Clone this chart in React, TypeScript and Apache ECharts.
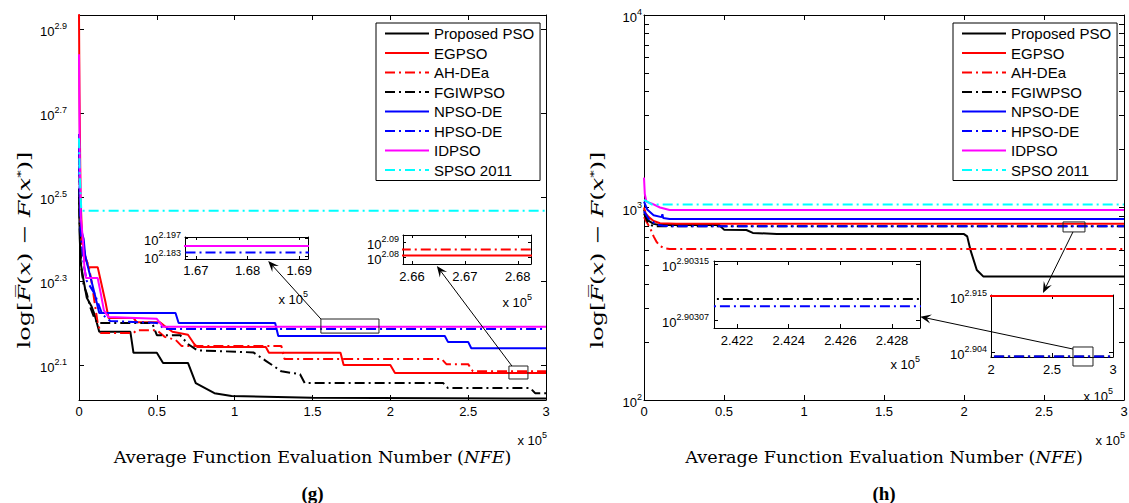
import React, { useEffect, useRef } from "react";
import * as echarts from "echarts";

// ---------- series identity ----------
const NAMES = ["Proposed PSO", "EGPSO", "AH-DEa", "FGIWPSO", "NPSO-DE", "HPSO-DE", "IDPSO", "SPSO 2011"];
const COLORS = ["#000000", "#ff0000", "#ff0000", "#000000", "#0000ff", "#0000ff", "#ff00ff", "#00ffff"];
const DASHED = [false, false, true, true, false, true, false, true];

// ---------- panel (g): [NFE (x1e5), log10 error] ----------
const gProposed = [[0, 2.5], [0.005, 2.4], [0.012, 2.34], [0.03, 2.3], [0.05, 2.26], [0.08, 2.24], [0.1, 2.22], [0.13, 2.179], [0.33, 2.179], [0.35, 2.129], [0.5, 2.129], [0.54, 2.105], [0.7, 2.105], [0.75, 2.057], [0.87, 2.033], [0.98, 2.026], [1.5, 2.022], [3, 2.02]];
const gEGPSO = [[0, 2.935], [0.003, 2.75], [0.01, 2.5], [0.02, 2.4], [0.04, 2.36], [0.06, 2.333], [0.12, 2.333], [0.14, 2.3], [0.17, 2.25], [0.19, 2.212], [0.35, 2.212], [0.37, 2.202], [0.52, 2.202], [0.56, 2.19], [0.6, 2.179], [0.7, 2.172], [0.74, 2.15], [0.76, 2.143], [1.2, 2.143], [1.22, 2.129], [1.68, 2.129], [1.7, 2.1], [2.0, 2.1], [2.03, 2.081], [3, 2.081]];
const gAHDEa = [[0, 2.6], [0.01, 2.42], [0.03, 2.36], [0.06, 2.34], [0.08, 2.3], [0.1, 2.25], [0.12, 2.2], [0.14, 2.176], [0.35, 2.176], [0.37, 2.183], [0.5, 2.183], [0.55, 2.167], [0.62, 2.16], [0.66, 2.145], [1.3, 2.145], [1.32, 2.114], [2.33, 2.114], [2.36, 2.102], [2.5, 2.102], [2.53, 2.085], [3, 2.085]];
const gFGIWPSO = [[0, 2.52], [0.005, 2.42], [0.015, 2.33], [0.03, 2.29], [0.05, 2.27], [0.07, 2.24], [0.1, 2.21], [0.12, 2.2], [0.47, 2.2], [0.5, 2.171], [0.65, 2.171], [0.7, 2.15], [0.76, 2.135], [1.12, 2.13], [1.2, 2.11], [1.3, 2.085], [1.42, 2.078], [1.45, 2.057], [2.34, 2.057], [2.37, 2.045], [2.9, 2.045], [2.93, 2.033], [3, 2.033]];
const gNPSODE = [[0, 2.65], [0.005, 2.5], [0.015, 2.42], [0.03, 2.4], [0.04, 2.36], [0.06, 2.33], [0.08, 2.3], [0.1, 2.27], [0.13, 2.224], [0.62, 2.224], [0.64, 2.2], [1.26, 2.2], [1.28, 2.169], [2.35, 2.169], [2.37, 2.155], [2.5, 2.155], [2.52, 2.14], [3, 2.14]];
const gHPSODE = [[0, 2.62], [0.01, 2.42], [0.03, 2.34], [0.05, 2.3], [0.1, 2.27], [0.15, 2.22], [0.2, 2.205], [0.5, 2.2], [0.55, 2.186], [3, 2.186]];
const gIDPSO = [[0, 2.84], [0.004, 2.62], [0.012, 2.45], [0.025, 2.4], [0.035, 2.33], [0.045, 2.307], [0.12, 2.307], [0.14, 2.27], [0.16, 2.23], [0.19, 2.214], [0.5, 2.21], [0.54, 2.191], [3, 2.191]];
const gSPSO = [[0, 2.64], [0.005, 2.55], [0.015, 2.467], [3, 2.467]];

// ---------- panel (h) ----------
const hProposed = [[0, 2.99], [0.01, 2.96], [0.03, 2.93], [0.06, 2.915], [0.1, 2.909], [0.47, 2.909], [0.5, 2.885], [0.64, 2.883], [0.68, 2.868], [0.83, 2.862], [2.0, 2.862], [2.02, 2.85], [2.04, 2.78], [2.08, 2.675], [2.12, 2.642], [3, 2.642]];
const hEGPSO = [[0, 3.0], [0.01, 2.97], [0.03, 2.95], [0.06, 2.93], [0.1, 2.918], [0.2, 2.915], [3, 2.915]];
const hAHDEa = [[0, 2.95], [0.02, 2.92], [0.04, 2.89], [0.06, 2.85], [0.08, 2.82], [0.1, 2.8], [0.13, 2.788], [0.16, 2.784], [3, 2.784]];
const hFGIWPSO = [[0, 2.97], [0.02, 2.93], [0.04, 2.91], [0.06, 2.9031], [3, 2.9031]];
const hNPSODE = [[0, 3.03], [0.02, 2.99], [0.06, 2.96], [0.11, 2.95], [0.115, 2.965], [0.12, 2.945], [0.16, 2.94], [3, 2.94]];
const hHPSODE = [[0, 2.98], [0.03, 2.94], [0.08, 2.91], [0.12, 2.905], [0.16, 2.90309], [3, 2.90309]];
const hIDPSO = [[0, 3.155], [0.005, 3.07], [0.015, 3.03], [0.05, 3.02], [0.1, 3.0], [0.16, 2.987], [3, 2.987]];
const hSPSO = [[0, 3.04], [0.02, 3.03], [0.05, 3.015], [3, 3.015]];

const G_DATA = [gProposed, gEGPSO, gAHDEa, gFGIWPSO, gNPSODE, gHPSODE, gIDPSO, gSPSO];
const H_DATA = [hProposed, hEGPSO, hAHDEa, hFGIWPSO, hNPSODE, hHPSODE, hIDPSO, hSPSO];

// ---------- tick labels ----------
const X_TICKS = [0, 0.5, 1, 1.5, 2, 2.5, 3];
const G_Y_TICKS = [2.1, 2.3, 2.5, 2.7, 2.9];
const H_Y_TICKS = [2, 3, 4];
const H_Y_MINOR = [2, 3].flatMap((d) => [2, 3, 4, 5, 6, 7, 8, 9].map((k) => d + Math.log10(k)));
const L1_X = [1.67, 1.68, 1.69];
const L1_Y = [2.183, 2.197];
const L2_X = [2.66, 2.67, 2.68];
const L2_Y = [2.08, 2.09];
const RA_X = [2.422, 2.424, 2.426, 2.428];
const RA_Y = [2.90307, 2.90315];
const RB_X = [2, 2.5, 3];
const RB_Y = [2.904, 2.915];

// zoom windows marked on the plots, and arrows pointing to the insets
const ZOOM_BOXES = [
  { panel: 0, x: [1.554, 1.927], y: [2.176, 2.2095] },
  { panel: 0, x: [2.762, 2.884], y: [2.0667, 2.0976] },
  { panel: 1, x: [2.619, 2.756], y: [2.873, 2.925] },
  { panel: 5, x: [2.672, 2.836], y: [2.90123, 2.90497] },
];
const ARROWS = [
  { from: { panel: 0, p: [1.554, 2.2095] }, to: { panel: 2, p: [1.684, 2.1795] } },
  { from: { panel: 0, p: [2.781, 2.0976] }, to: { panel: 3, p: [2.6647, 2.074] } },
  { from: { panel: 1, p: [2.681, 2.873] }, to: { panel: 5, p: [2.426, 2.9156] } },
  { from: { panel: 5, p: [2.672, 2.90457] }, to: { panel: 4, p: [2.42909, 2.903075] } },
];

// ---------- layout ----------
const PANELS = [
  { left: 79, top: 15, width: 467, height: 385, x: [0, 3], y: [2.01667, 2.93333], xt: X_TICKS, yl: G_Y_TICKS, ytk: G_Y_TICKS, ym: 12, xm: 5, tl: 5, src: G_DATA, idx: [0, 1, 2, 3, 4, 5, 6, 7], inset: false },
  { left: 644, top: 15, width: 480, height: 385, x: [0, 3], y: [2, 4], xt: X_TICKS, yl: H_Y_TICKS, ytk: [...H_Y_TICKS, ...H_Y_MINOR], ym: 2, xm: 5, tl: 5, src: H_DATA, idx: [0, 1, 2, 3, 4, 5, 6, 7], inset: false },
  { left: 185, top: 237, width: 123, height: 22, x: [1.6679, 1.6917], y: [2.181, 2.198], xt: L1_X, yl: L1_Y, ytk: L1_Y, ym: 4, xm: 5, tl: 3, src: G_DATA, idx: [5, 6], inset: true },
  { left: 403, top: 235, width: 128, height: 29, x: [2.6583, 2.6825], y: [2.0753, 2.0947], xt: L2_X, yl: L2_Y, ytk: L2_Y, ym: 4, xm: 6, tl: 3, src: G_DATA, idx: [1, 2], inset: true },
  { left: 714, top: 261, width: 206, height: 67, x: [2.42111, 2.42908], y: [2.903059, 2.903154], xt: RA_X, yl: RA_Y, ytk: RA_Y, ym: 5, xm: 6, tl: 4, src: H_DATA, idx: [3, 5], inset: true },
  { left: 991, top: 295, width: 122, height: 62, x: [2, 3], y: [2.903, 2.9152], xt: RB_X, yl: RB_Y, ytk: RB_Y, ym: 4, xm: 6, tl: 4, src: H_DATA, idx: [1, 3, 5], inset: true },
];

const FONT = "'Liberation Sans', Arial, Helvetica, sans-serif";
const SERIF = "'DejaVu Serif', 'Liberation Serif', serif";
const TIMES = "'Liberation Serif', 'Times New Roman', serif";
const DASHDOT = [10, 4, 2, 4];

const fmt = (v: number) => String(parseFloat(Number(v).toFixed(6)));
const supRich = {
  b: { fontSize: 13, fontFamily: FONT, color: "#000", lineHeight: 20 },
  s: { fontSize: 9, fontFamily: FONT, color: "#000", lineHeight: 8, verticalAlign: "top" },
};

export default function App() {
  const ref = useRef<HTMLDivElement>(null);
  useEffect(() => {
    const chart = echarts.init(ref.current!, undefined, { renderer: "svg" });
    const grid: any[] = [];
    const xAxis: any[] = [];
    const yAxis: any[] = [];
    const series: any[] = [];

    PANELS.forEach((p, i) => {
      grid.push({ left: p.left, top: p.top, width: p.width, height: p.height, show: false, containLabel: false, outerBoundsMode: "none" });
      const line = { show: true, onZero: false, lineStyle: { color: "#000", width: 1 } };
      const tick = (vals: number[]) => ({ show: true, inside: true, length: p.tl, customValues: vals, lineStyle: { color: "#000", width: 1 } });
      const common = { type: "value", gridIndex: i, axisLine: line, splitLine: { show: false }, silent: true };
      xAxis.push({
        ...common, position: "bottom", min: p.x[0], max: p.x[1], axisTick: tick(p.xt),
        axisLabel: { customValues: p.xt, formatter: fmt, margin: p.xm, fontSize: 13, fontFamily: FONT, color: "#000", showMinLabel: true, showMaxLabel: true },
      });
      xAxis.push({ ...common, position: "top", min: p.x[0], max: p.x[1], axisTick: tick(p.xt), axisLabel: { show: false } });
      yAxis.push({
        ...common, position: "left", min: p.y[0], max: p.y[1], axisTick: tick(p.ytk),
        axisLabel: p.inset
          ? { show: false }
          : { customValues: p.yl, formatter: (v: number) => `{b|10}{s|${fmt(v)}}`, rich: supRich, margin: p.ym, padding: [5, 0, 0, 0], showMinLabel: true, showMaxLabel: true },
      });
      yAxis.push({ ...common, position: "right", min: p.y[0], max: p.y[1], axisTick: tick(p.ytk), axisLabel: { show: false } });

      p.idx.forEach((k) => {
        series.push({
          type: "line", name: NAMES[k], data: p.src[k], xAxisIndex: 2 * i, yAxisIndex: 2 * i,
          symbol: "none", showSymbol: false, clip: true, silent: true, emphasis: { disabled: true },
          lineStyle: { color: COLORS[k], width: 2, type: DASHED[k] ? DASHDOT : "solid" },
          itemStyle: { color: COLORS[k] },
        });
      });
    });

    const legendBase = {
      orient: "vertical", data: NAMES, itemWidth: 44, itemHeight: 14, itemGap: 4.5,
      padding: [3, 6, 3, 8], borderColor: "#000", borderWidth: 1, backgroundColor: "#fff",
      selectedMode: false, textStyle: { fontSize: 15, fontFamily: FONT, color: "#000" },
      itemStyle: { opacity: 0 }, lineStyle: { width: 2 },
    };

    chart.setOption({
      animation: false,
      backgroundColor: "#fff",
      grid, xAxis, yAxis, series,
      legend: [
        { ...legendBase, left: 376, top: 23 },
        { ...legendBase, left: 953, top: 23 },
      ],
    });

    const px = (panel: number, pt: number[]) =>
      chart.convertToPixel({ xAxisIndex: 2 * panel, yAxisIndex: 2 * panel } as any, pt) as number[];

    const graphic: any[] = [];

    // inset y tick labels (10^v), placed at the inset's own scale
    PANELS.forEach((p, i) => {
      if (!p.inset) return;
      p.yl.forEach((v) => {
        const pt = px(i, [p.x[0], v]);
        graphic.push({
          type: "text", x: pt[0] - p.ym, y: pt[1] + 2.5, z: 100,
          style: { text: `{b|10}{s|${fmt(v)}}`, rich: supRich, align: "right", verticalAlign: "middle" },
        });
      });
    });

    ZOOM_BOXES.forEach((b) => {
      const a = px(b.panel, [b.x[0], b.y[1]]);
      const c = px(b.panel, [b.x[1], b.y[0]]);
      graphic.push({ type: "rect", z: 100, shape: { x: a[0], y: a[1], width: c[0] - a[0], height: c[1] - a[1] }, style: { fill: "none", stroke: "#222", lineWidth: 1 } });
    });
    ARROWS.forEach((ar) => {
      const t = px(ar.from.panel, ar.from.p);
      const h = px(ar.to.panel, ar.to.p);
      const dx = h[0] - t[0], dy = h[1] - t[1];
      const len = Math.hypot(dx, dy);
      const ux = dx / len, uy = dy / len, nx = -uy, ny = ux;
      const L = 11, W = 9;
      graphic.push({ type: "line", z: 100, shape: { x1: t[0], y1: t[1], x2: h[0] - ux * 6, y2: h[1] - uy * 6 }, style: { stroke: "#000", lineWidth: 1 } });
      graphic.push({
        type: "polygon", z: 101,
        shape: { points: [
          [h[0], h[1]],
          [h[0] - ux * L + nx * W / 2, h[1] - uy * L + ny * W / 2],
          [h[0] - ux * L * 0.6, h[1] - uy * L * 0.6],
          [h[0] - ux * L - nx * W / 2, h[1] - uy * L - ny * W / 2],
        ] },
        style: { fill: "#000" },
      });
    });

    const x10 = (x: number, y: number) => ({
      type: "text", x, y, z: 100,
      style: { text: "{b|x 10}{s|5}", rich: supRich, align: "right", verticalAlign: "middle" },
    });
    graphic.push(x10(547, 440), x10(1125, 440), x10(308, 299), x10(532, 302), x10(920, 364), x10(1113, 396));

    const titleRich = {
      n: { fontFamily: SERIF, fontSize: 16, color: "#000" },
      i: { fontFamily: SERIF, fontSize: 16, color: "#000", fontStyle: "italic" },
      p: { fontFamily: SERIF, fontSize: 10, color: "#000", verticalAlign: "top", lineHeight: 10 },
    };
    [0, 1].forEach((k) => {
      const p = PANELS[k];
      const cx = p.left + p.width / 2;
      graphic.push({
        type: "text", x: cx, y: 457, scaleX: 1.1,
        style: { text: "{n|Average Function Evaluation Number (}{i|NFE}{n|)}", rich: titleRich, align: "center", verticalAlign: "middle" },
      });
      graphic.push({
        type: "text", x: cx, y: 493,
        style: { text: k === 0 ? "(g)" : "(h)", font: `bold 19px ${TIMES}`, fill: "#000", align: "center", verticalAlign: "middle" },
      });
      graphic.push({
        type: "text", x: k === 0 ? 25 : 598, y: 250, rotation: Math.PI / 2, scaleX: 1.5,
        style: {
          text: "{n|log[}{i|F\u0305}{n|(}{i|x}{n|) \u2212 }{i|F}{n|(}{i|x}{p|*}{n|)]}",
          rich: { ...titleRich, n: { ...titleRich.n, lineHeight: 20 }, i: { ...titleRich.i, lineHeight: 20 } },
          align: "center", verticalAlign: "middle",
        },
      });
    });

    chart.setOption({ graphic });
    return () => chart.dispose();
  }, []);
  return <div ref={ref} style={{ position: "absolute", left: 0, top: 0, width: 1129, height: 503 }} />;
}
